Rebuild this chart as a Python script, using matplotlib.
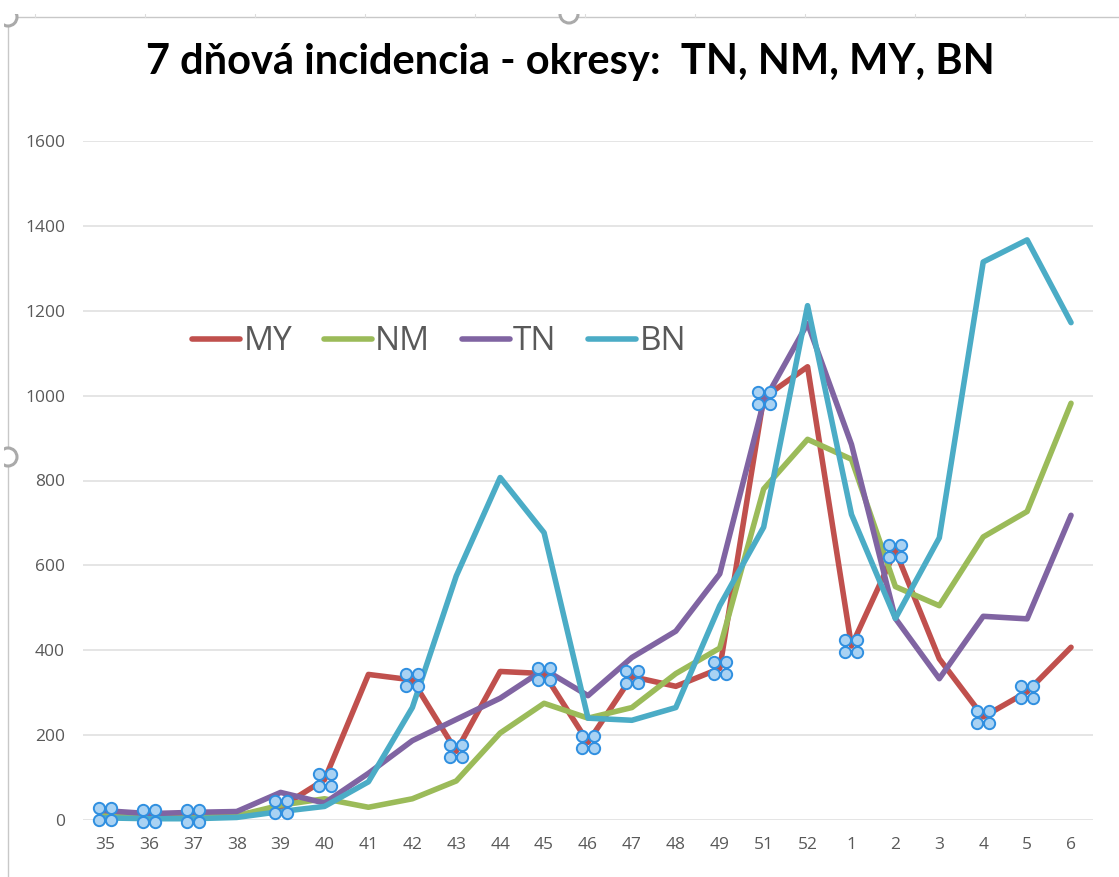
#!/usr/bin/env python3
"""7 day incidence per district, screenshot of an Excel chart with selection handles."""
import matplotlib
matplotlib.use("Agg")
import matplotlib.pyplot as plt
from matplotlib.path import Path
from matplotlib.patches import Circle
from matplotlib.transforms import Affine2D

W, H = 1119, 877

weeks = ["35", "36", "37", "38", "39", "40", "41", "42", "43", "44", "45", "46",
         "47", "48", "49", "51", "52", "1", "2", "3", "4", "5", "6"]
my = [15, 10, 10, 10, 30, 95, 343, 330, 162, 350, 345, 183,
      338, 315, 357, 995, 1068, 410, 635, 380, 243, 302, 407]
nm = [12, 8, 8, 10, 35, 50, 30, 50, 92, 205, 275, 240,
      265, 345, 405, 780, 897, 850, 550, 505, 667, 727, 982]
tn = [22, 15, 18, 20, 65, 40, 110, 187, 237, 287, 355, 293,
      383, 445, 580, 985, 1170, 885, 475, 333, 480, 474, 718]
bn = [5, 3, 3, 6, 20, 32, 90, 265, 575, 807, 677, 240,
      235, 265, 505, 690, 1212, 720, 475, 665, 1315, 1367, 1172]
# weeks where the MY points are selected in the screenshot
selected = ["35", "36", "37", "39", "40", "42", "43", "45", "46", "47", "49",
            "51", "1", "2", "4", "5"]
yticks = [0, 200, 400, 600, 800, 1000, 1200, 1400, 1600]

C_MY = "#C0504D"; C_NM = "#9BBB59"; C_TN = "#8064A2"; C_BN = "#4BACC6"
C_TXT = "#595959"; C_GRID = "#DEDEDE"; C_FRAME = "#C8C8C8"

fig = plt.figure(figsize=(W / 100, H / 100), dpi=100)
ax = fig.add_axes([83 / W, 1 - 820 / H, (1093 - 83) / W, (820 - 141) / H])
x = list(range(len(weeks)))

for vals, col, name in [(my, C_MY, "MY"), (nm, C_NM, "NM"), (tn, C_TN, "TN"), (bn, C_BN, "BN")]:
    ax.plot(x, vals, color=col, lw=4, label=name, solid_joinstyle="round",
            solid_capstyle="round", clip_on=False)

ax.set_xlim(-0.5, 22.5)
ax.set_ylim(0, 1600)
ax.set_xticks(x, weeks)
ax.set_yticks(yticks)
ax.grid(axis="y", color=C_GRID, lw=1.1)
ax.set_axisbelow(True)
for s in ax.spines.values():
    s.set_visible(False)
ax.tick_params(length=0, labelsize=12.5, labelcolor=C_TXT)
ax.tick_params(axis="x", pad=12)
ax.tick_params(axis="y", pad=13)
for lab in ax.get_xticklabels() + ax.get_yticklabels():
    lab.set_family("Open Sans")

# four-circle selection handle as one marker
handle = Path.make_compound_path(*[
    Path.unit_circle().transformed(Affine2D().scale(5.5).translate(dx, dy))
    for dx in (-6, 6) for dy in (-6, 6)])
sx = [weeks.index(w) for w in selected]
sy = [my[i] for i in sx]
ax.plot(sx, sy, ls="none", marker=handle, ms=16.8, mfc="#A9D2F3", mec="#2F8FE0", mew=1.4,
        clip_on=False, zorder=5)

leg = ax.legend(loc="center left", bbox_to_anchor=((192 - 83) / (1093 - 83), (820 - 342) / (820 - 141)),
                ncol=4, frameon=False, labelcolor=C_TXT, handlelength=1.44,
                handletextpad=0.1, columnspacing=0.95, borderpad=0, borderaxespad=0,
                prop={"family": "Open Sans", "size": 24})
for line in leg.get_lines():
    line.set_linewidth(4)

# screenshot chrome in pixel coordinates
ov = fig.add_axes([0, 0, 1, 1], zorder=-1)
ov.set_xlim(0, W); ov.set_ylim(H, 0); ov.axis("off")
ov.plot([8, W], [17, 17], color=C_FRAME, lw=1)
ov.plot([8, 8], [20, H], color=C_FRAME, lw=1)
for tx in range(40, W, 110):
    ov.plot([tx - 5, tx - 5], [12, 17], color="#DDDDDD", lw=0.8)

top = fig.add_axes([0, 0, 1, 1], zorder=6)
top.set_xlim(0, W); top.set_ylim(H, 0); top.axis("off")
for cx, cy in [(8, 17), (569, 14), (8, 457)]:
    top.add_patch(Circle((cx, cy), 9, fc="white", ec="#AAAAAA", lw=2.2))
top.add_patch(plt.Rectangle((0, 0), W, 14, fc="white", ec="none"))
top.add_patch(plt.Rectangle((0, 0), 4, H, fc="white", ec="none"))
top.text(570, 62, "7 dňová incidencia - okresy:  TN, NM, MY, BN", ha="center", va="center",
         fontsize=30, fontweight="bold", family="Lato", color="black")

fig.savefig("out.png", dpi=100)
